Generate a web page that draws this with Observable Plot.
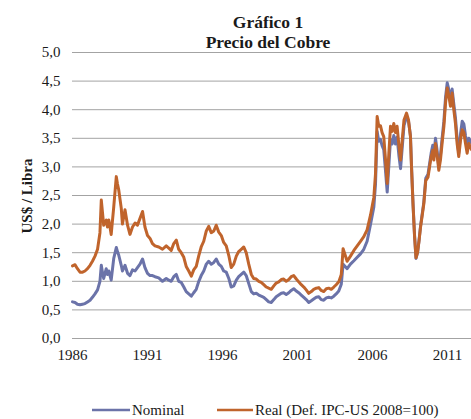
<!DOCTYPE html>
<html>
<head>
<meta charset="utf-8">
<script src="https://cdn.jsdelivr.net/npm/d3@7"></script>
<script src="https://cdn.jsdelivr.net/npm/@observablehq/plot@0.6"></script>
<style>
  html, body { margin: 0; padding: 0; background: #ffffff; }
  #wrap { position: relative; width: 471px; height: 419px; overflow: hidden; }
  #chart, #overlay { position: absolute; left: 0; top: 0; }
  #overlay { pointer-events: none; }
  text { font-family: "Liberation Serif", "Times New Roman", serif; fill: #1a1a1a; }
</style>
</head>
<body>
<div id="wrap">
  <div id="chart"></div>
  <svg id="overlay" width="471" height="419">
    <text x="268" y="28" text-anchor="middle" font-size="17.5" font-weight="bold">Gráfico 1</text>
    <text x="268" y="48" text-anchor="middle" font-size="17.5" font-weight="bold">Precio del Cobre</text>
    <text transform="translate(32,196) rotate(-90)" text-anchor="middle" font-size="15" font-weight="bold">US$ / Libra</text>
    <line x1="92" x2="130" y1="410" y2="410" stroke="#6b73a9" stroke-width="2.5"/>
    <text x="132" y="415" font-size="15">Nominal</text>
    <line x1="217" x2="253" y1="410" y2="410" stroke="#c0642c" stroke-width="2.5"/>
    <text x="255" y="415" font-size="15">Real (Def. IPC-US 2008=100)</text>
  </svg>
</div>
<script>
// Decimal years of each reading
const years = [
  1986.00,1986.17,1986.33,1986.50,1986.67,1986.83,1987.00,1987.17,1987.33,1987.50,1987.67,1987.83,1987.92,
  1988.00,1988.08,1988.25,1988.33,1988.42,1988.58,1988.75,1988.92,1989.00,1989.08,1989.25,1989.33,1989.50,
  1989.67,1989.83,1990.00,1990.17,1990.33,1990.50,1990.67,1990.83,1991.00,1991.17,1991.33,1991.50,1991.75,
  1992.00,1992.25,1992.42,1992.58,1992.75,1992.92,1993.08,1993.25,1993.42,1993.58,1993.75,1993.92,
  1994.08,1994.25,1994.42,1994.58,1994.75,1994.92,1995.08,1995.25,1995.42,1995.58,1995.75,1995.92,
  1996.08,1996.25,1996.42,1996.58,1996.75,1996.92,1997.08,1997.25,1997.42,1997.58,1997.75,1997.92,
  1998.08,1998.25,1998.42,1998.58,1998.75,1998.92,1999.08,1999.25,1999.42,1999.58,1999.75,1999.92,
  2000.08,2000.25,2000.42,2000.58,2000.75,2000.92,2001.08,2001.25,2001.42,2001.58,2001.75,2001.92,
  2002.08,2002.25,2002.42,2002.58,2002.75,2002.92,2003.08,2003.25,2003.42,2003.58,2003.75,2003.92,
  2004.04,2004.31,2004.53,2004.76,2004.98,2005.20,2005.42,2005.64,2005.87,2006.09,2006.20,2006.31,
  2006.42,2006.53,2006.64,2006.75,2006.87,2006.98,2007.09,2007.20,2007.31,2007.42,2007.53,2007.64,
  2007.76,2007.87,2008.00,2008.10,2008.27,2008.40,2008.53,2008.60,2008.70,2008.80,2008.90,2009.00,
  2009.10,2009.20,2009.42,2009.55,2009.70,2009.91,2010.02,2010.09,2010.20,2010.31,2010.42,2010.53,
  2010.64,2010.76,2010.87,2010.98,2011.09,2011.20,2011.31,2011.42,2011.53,2011.64,2011.75,2011.87,
  2011.98,2012.09,2012.20,2012.31,2012.42,2012.60
];
// Nominal price, US$ / lb
const nominal = [
  0.64,0.63,0.60,0.59,0.60,0.61,0.64,0.67,0.72,0.78,0.85,1.00,1.28,
  1.15,1.05,1.22,1.12,1.18,1.02,1.40,1.59,1.52,1.46,1.28,1.18,1.28,
  1.14,1.10,1.20,1.18,1.24,1.30,1.39,1.24,1.14,1.10,1.10,1.08,1.06,
  1.00,1.05,1.02,1.00,1.08,1.12,1.00,0.98,0.90,0.82,0.78,0.74,
  0.80,0.86,1.00,1.10,1.18,1.30,1.35,1.30,1.33,1.39,1.30,1.26,
  1.18,1.16,1.05,0.90,0.92,1.02,1.08,1.12,1.16,1.10,0.96,0.82,
  0.78,0.79,0.76,0.74,0.72,0.68,0.64,0.63,0.68,0.73,0.76,0.79,
  0.80,0.77,0.80,0.84,0.87,0.83,0.80,0.76,0.72,0.68,0.63,0.66,
  0.69,0.72,0.73,0.68,0.67,0.71,0.72,0.71,0.74,0.78,0.83,0.95,
  1.30,1.22,1.30,1.36,1.42,1.48,1.56,1.70,2.00,2.30,2.70,3.62,
  3.45,3.48,3.37,3.30,2.92,2.56,3.02,3.48,3.40,3.55,3.40,3.52,
  3.20,2.97,3.40,3.72,3.88,3.80,3.55,3.02,2.37,1.82,1.40,1.50,
  1.71,1.96,2.38,2.80,2.87,3.24,3.38,3.20,3.50,3.28,3.00,3.20,
  3.50,3.80,4.22,4.47,4.35,4.16,4.36,4.10,3.86,3.50,3.24,3.58,
  3.80,3.75,3.55,3.38,3.50,3.42
];
// Real price (deflated by US CPI, 2008=100), US$ / lb
const real = [
  1.27,1.29,1.22,1.16,1.16,1.18,1.22,1.28,1.35,1.44,1.56,1.85,2.42,
  2.20,1.98,2.07,1.95,2.07,1.82,2.30,2.83,2.70,2.60,2.28,2.00,2.25,
  1.98,1.82,1.95,2.02,1.98,2.10,2.22,1.95,1.80,1.75,1.66,1.62,1.60,
  1.56,1.62,1.58,1.54,1.66,1.72,1.56,1.50,1.42,1.26,1.18,1.09,
  1.20,1.26,1.45,1.60,1.70,1.88,1.96,1.85,1.88,1.98,1.86,1.80,
  1.68,1.62,1.45,1.24,1.30,1.44,1.52,1.56,1.60,1.50,1.30,1.12,
  1.05,1.04,1.00,0.98,0.94,0.90,0.88,0.86,0.92,0.97,0.99,1.03,
  1.04,1.00,1.03,1.08,1.10,1.04,0.99,0.94,0.90,0.85,0.79,0.82,
  0.86,0.88,0.89,0.84,0.82,0.87,0.88,0.86,0.90,0.94,0.99,1.12,
  1.57,1.35,1.44,1.54,1.62,1.70,1.78,1.90,2.16,2.47,2.88,3.88,
  3.71,3.72,3.60,3.53,3.12,2.71,3.24,3.71,3.62,3.76,3.60,3.71,
  3.38,3.12,3.53,3.82,3.94,3.82,3.53,3.00,2.35,1.80,1.41,1.50,
  1.70,1.94,2.35,2.76,2.82,3.18,3.29,3.12,3.41,3.20,2.94,3.12,
  3.41,3.71,4.12,4.38,4.24,4.06,4.29,4.00,3.76,3.41,3.18,3.47,
  3.65,3.60,3.41,3.24,3.41,3.30
];
const xTicks = [1986, 1991, 1996, 2001, 2006, 2011];
const yTicks = [0, 0.5, 1, 1.5, 2, 2.5, 3, 3.5, 4, 4.5, 5];

const nominalData = years.map((t, i) => ({t, v: nominal[i]}));
const realData = years.map((t, i) => ({t, v: real[i]}));
const fmt = d => d.toFixed(1).replace(".", ",");

const chart = Plot.plot({
  width: 471,
  height: 419,
  marginTop: 52,
  marginBottom: 81,
  marginLeft: 72,
  marginRight: 0,
  style: {fontFamily: "Liberation Serif, serif", fontSize: "15px", color: "#1a1a1a", background: "transparent"},
  x: {domain: [1986, 2012.6], axis: null},
  y: {domain: [0, 5], axis: null},
  marks: [
    Plot.ruleY(yTicks, {stroke: "#a3a3a3", strokeWidth: 1}),
    Plot.axisY(yTicks, {tickSize: 0, tickPadding: 12, tickFormat: fmt, label: null, fontSize: 15}),
    Plot.axisX(xTicks, {tickSize: 0, tickPadding: 11, tickFormat: d => String(d), label: null, fontSize: 15}),
    Plot.line(nominalData, {x: "t", y: "v", stroke: "#6b73a9", strokeWidth: 3, strokeLinejoin: "round"}),
    Plot.line(realData, {x: "t", y: "v", stroke: "#c0642c", strokeWidth: 3, strokeLinejoin: "round"})
  ]
});
document.getElementById("chart").appendChild(chart);
</script>
</body>
</html>
